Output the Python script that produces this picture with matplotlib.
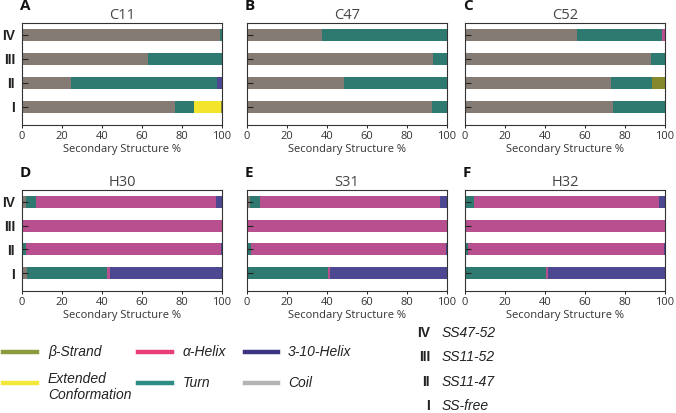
import matplotlib
matplotlib.use("Agg")
import matplotlib.pyplot as plt
from matplotlib.lines import Line2D
import numpy as np

# ---------------- data ----------------
panels = ["C11", "C47", "C52", "H30", "S31", "H32"]
letters = ["A", "B", "C", "D", "E", "F"]
states = ["I", "II", "III", "IV"]          # bottom -> top
state_names = ["SS-free", "SS11-47", "SS11-52", "SS47-52"]

# each row: one panel, values for states I, II, III, IV (%)
coil = [[76.5, 24.5, 62.8, 99.2],
        [92.5, 48.5, 92.8, 37.3],
        [74.0, 73.0, 93.0, 56.2],
        [2.5, 0.0, 0.0, 2.0],
        [0.0, 0.0, 0.0, 1.5],
        [0.0, 0.0, 0.0, 0.0]]
turn = [[9.5, 72.8, 37.2, 0.8],
        [7.5, 51.5, 7.2, 62.7],
        [26.0, 20.5, 7.0, 42.3],
        [40.0, 2.0, 0.0, 5.0],
        [40.3, 2.0, 0.0, 5.0],
        [40.3, 1.5, 0.0, 4.5]]
alpha_helix = [[0.0, 0.0, 0.0, 0.0],
               [0.0, 0.0, 0.0, 0.0],
               [0.0, 0.0, 0.0, 1.5],
               [1.5, 97.5, 100.0, 90.0],
               [1.2, 97.5, 100.0, 90.0],
               [1.0, 98.0, 100.0, 92.5]]
extended = [[13.5, 0.0, 0.0, 0.0],
            [0.0, 0.0, 0.0, 0.0],
            [0.0, 0.0, 0.0, 0.0],
            [0.0, 0.0, 0.0, 0.0],
            [0.0, 0.0, 0.0, 0.0],
            [0.0, 0.0, 0.0, 0.0]]
beta_strand = [[0.5, 0.0, 0.0, 0.0],
               [0.0, 0.0, 0.0, 0.0],
               [0.0, 6.5, 0.0, 0.0],
               [0.0, 0.0, 0.0, 0.0],
               [0.0, 0.0, 0.0, 0.0],
               [0.0, 0.0, 0.0, 0.0]]
helix310 = [[0.0, 2.7, 0.0, 0.0],
            [0.0, 0.0, 0.0, 0.0],
            [0.0, 0.0, 0.0, 0.0],
            [56.0, 0.5, 0.0, 3.0],
            [58.5, 0.5, 0.0, 3.5],
            [58.7, 0.5, 0.0, 3.0]]

series = [coil, turn, alpha_helix, extended, beta_strand, helix310]
bar_colors = ["#857b75", "#2f7a70", "#b8508f", "#f3e52b", "#86882e", "#4c4892"]

legend_labels = ["β-Strand", "α-Helix", "3-10-Helix",
                 "Extended\nConformation", "Turn", "Coil"]
legend_colors = ["#8c9c3c", "#e83e78", "#3a3482", "#f2e83a", "#2f8c84", "#b4b4b4"]

# ---------------- figure ----------------
W, H = 676, 413
fig = plt.figure(figsize=(W / 100, H / 100), dpi=100)
plt.rcParams['font.family'] = ['Open Sans', 'DejaVu Sans']

def fx(px):
    return px / W

def fy(py):
    return 1 - py / H

lefts = [22, 247, 465]
width_px = 200
rows = [(23, 125), (190, 291)]

for i, name in enumerate(panels):
    r, c = divmod(i, 3)
    top, bot = rows[r]
    ax = fig.add_axes([fx(lefts[c]), fy(bot), width_px / W, (bot - top) / H])
    y = np.arange(len(states))
    left = np.zeros(len(states))
    for vals, col in zip(series, bar_colors):
        v = np.array(vals[i])
        ax.barh(y, v, left=left, height=0.5, color=col, edgecolor='none')
        left += v
    ax.set_xlim(0, 100)
    ax.set_ylim(-0.75, 3.5)
    ax.set_xticks([0, 20, 40, 60, 80, 100])
    ax.set_yticks(y)
    if c == 0:
        ax.set_yticklabels(states, fontweight='bold', fontsize=10,
                           family='Liberation Sans', color='#222222')
    else:
        ax.set_yticklabels([])
    ax.tick_params(axis='y', direction='in', length=4, width=0.8, color='#222222', pad=5)
    ax.tick_params(axis='x', direction='out', length=2, width=0.6, labelsize=8,
                   labelcolor='#333333', pad=2)
    for s in ax.spines.values():
        s.set_linewidth(0.8)
        s.set_color('#333333')
    ax.set_xlabel("Secondary Structure %", fontsize=8, color='#333333', labelpad=2)
    ax.set_title(name, fontsize=10.5, color='#444444', pad=3)
    ax.text(-0.01, 1.1, letters[i], transform=ax.transAxes, fontsize=11,
            fontweight='bold', color='#111111', ha='left', va='bottom')

# ---------------- structure legend ----------------
leg_cols = [(3, 37, 48), (138, 172, 183), (245, 278, 288)]
leg_rows = [352, 383]
for k, (lab, col) in enumerate(zip(legend_labels, legend_colors)):
    rr, cc = divmod(k, 3)
    x0, x1, xt = leg_cols[cc]
    yl = leg_rows[rr]
    fig.add_artist(Line2D([fx(x0), fx(x1)], [fy(yl), fy(yl)], color=col, lw=3.2,
                          transform=fig.transFigure))
    if "\n" in lab:
        fig.text(fx(xt), fy(yl - 11), lab, fontsize=10, style='italic',
                 family='Liberation Sans', color='#222222', ha='left', va='top',
                 linespacing=1.2)
    else:
        fig.text(fx(xt), fy(yl), lab, fontsize=10, style='italic',
                 family='Liberation Sans', color='#222222', ha='left', va='center')

# ---------------- state legend ----------------
state_y = {"IV": 333, "III": 357, "II": 382, "I": 406}
for s, nm in zip(states, state_names):
    yy = state_y[s]
    fig.text(fx(430), fy(yy), s, fontsize=10, fontweight='bold', family='Liberation Sans',
             color='#222222', ha='right', va='center')
    fig.text(fx(442), fy(yy), nm, fontsize=10, style='italic', family='Liberation Sans',
             color='#222222', ha='left', va='center')

fig.savefig("out.png", dpi=100)
